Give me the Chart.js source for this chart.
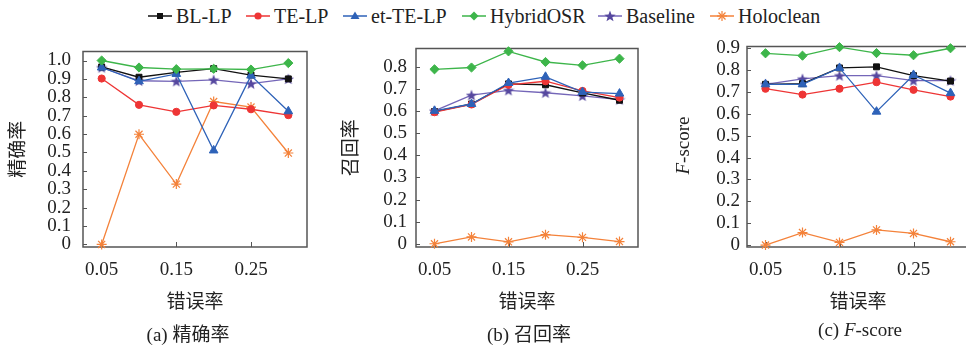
<!DOCTYPE html>
<html><head><meta charset="utf-8">
<script src="https://cdn.jsdelivr.net/npm/chart.js@4.4.0/dist/chart.umd.min.js"></script>
<style>
html,body{margin:0;padding:0;background:#fff;overflow:hidden;width:966px;height:352px;}
#wrap{position:relative;width:966px;height:352px;overflow:hidden;}
.panel{position:absolute;top:30px;height:290px;}
.leg{position:absolute;top:4px;height:24px;display:flex;align-items:center;font:20px "Liberation Serif","Noto Sans CJK SC",serif;color:#222;white-space:nowrap;}
.leg svg{margin-right:4px;display:block}
.cap{position:absolute;top:319px;line-height:24px;font:19px "Liberation Serif","Noto Sans CJK SC",serif;color:#222;transform:translateX(-50%);white-space:nowrap;}
</style></head>
<body>
<div id="wrap">
  <div id="legend"></div>
  <div class="panel" style="left:0px;width:314px"><canvas id="ca"></canvas></div>
  <div class="panel" style="left:332px;width:313px"><canvas id="cb"></canvas></div>
  <div class="panel" style="left:650px;width:326px"><canvas id="cc"></canvas></div>
  <div class="cap" style="left:188px">(a) 精确率</div>
  <div class="cap" style="left:529px">(b) 召回率</div>
  <div class="cap" style="left:860px">(c) <i>F</i>-score</div>
</div>
<script>
// ---------- data ----------
const errorRates = ['0.05','0.1','0.15','0.2','0.25','0.3'];
const seriesNames = ['BL-LP','TE-LP','et-TE-LP','HybridOSR','Baseline','Holoclean'];

const precisionBLLP      = [0.965,0.909,0.935,0.956,0.921,0.900];
const precisionTELP      = [0.902,0.759,0.721,0.756,0.735,0.703];
const precisionEtTELP    = [0.962,0.887,0.927,0.511,0.918,0.724];
const precisionHybridOSR = [1.000,0.962,0.953,0.955,0.951,0.986];
const precisionBaseline  = [0.962,0.890,0.887,0.895,0.874,0.900];
const precisionHoloclean = [0.000,0.599,0.328,0.777,0.747,0.497];

const recallBLLP      = [0.598,0.632,0.723,0.719,0.682,0.649];
const recallTELP      = [0.595,0.630,0.719,0.735,0.691,0.661];
const recallEtTELP    = [0.601,0.632,0.727,0.755,0.686,0.679];
const recallHybridOSR = [0.789,0.797,0.870,0.822,0.807,0.837];
const recallBaseline  = [0.601,0.672,0.694,0.683,0.669,0.652];
const recallHoloclean = [0.000,0.031,0.009,0.041,0.029,0.010];

const fscoreBLLP      = [0.735,0.738,0.810,0.815,0.775,0.750];
const fscoreTELP      = [0.715,0.688,0.715,0.745,0.710,0.679];
const fscoreEtTELP    = [0.735,0.735,0.810,0.610,0.778,0.695];
const fscoreHybridOSR = [0.877,0.866,0.905,0.878,0.868,0.900];
const fscoreBaseline  = [0.735,0.760,0.775,0.775,0.752,0.752];
const fscoreHoloclean = [0.000,0.057,0.012,0.069,0.053,0.015];

const precisionTicks = [0,0.1,0.2,0.3,0.4,0.5,0.6,0.7,0.8,0.9,1.0];
const recallTicks    = [0,0.1,0.2,0.3,0.4,0.5,0.6,0.7,0.8];
const fscoreTicks    = [0,0.1,0.2,0.3,0.4,0.5,0.6,0.7,0.8,0.9];
const labeledTickIdx = [0,2,4];

// ---------- styles ----------
const FONT = '"Liberation Serif","Noto Sans CJK SC",serif';
Chart.defaults.font.family = FONT;
Chart.defaults.color = '#222';

const C = {
  'BL-LP':    {line:'#111111', fill:'#111111', style:'rect', r:4.2},
  'TE-LP':    {line:'#ee3535', fill:'#ee3535', style:'circle', r:3.6},
  'et-TE-LP': {line:'#2e62b8', fill:'#2e62b8', style:'triangle', r:5},
  'HybridOSR':{line:'#3db54a', fill:'#3db54a', style:'rectRot', r:4.6},
  'Baseline': {line:'#7466b8', fill:'#56489f', style:'starImg', r:6},
  'Holoclean':{line:'#f4823a', fill:'#f4823a', style:'star', r:5}
};

function makeStar(size, color){
  const c = document.createElement('canvas');
  c.width = size; c.height = size;
  const g = c.getContext('2d');
  const cx=size/2, cy=size/2+0.5, R=size/2, r=R*0.42;
  g.beginPath();
  for(let i=0;i<10;i++){
    const a = -Math.PI/2 + i*Math.PI/5;
    const rr = i%2? r:R;
    g.lineTo(cx+rr*Math.cos(a), cy+rr*Math.sin(a));
  }
  g.closePath(); g.fillStyle=color; g.fill();
  return c;
}
const starImg = makeStar(12, '#56489f');

// ---------- legend (HTML) ----------
const legendX = [148,246,343,462,598,710];
function symbolSVG(name){
  const s=C[name]; const col=s.fill;
  let m='';
  if(s.style==='rect') m=`<rect x="9" y="9" width="6" height="6" fill="${col}"/>`;
  else if(s.style==='circle') m=`<circle cx="12" cy="12" r="3.6" fill="${col}"/>`;
  else if(s.style==='triangle') m=`<polygon points="12,7.5 16.5,15 7.5,15" fill="${col}"/>`;
  else if(s.style==='rectRot') m=`<polygon points="12,7.5 16.5,12 12,16.5 7.5,12" fill="${col}"/>`;
  else if(s.style==='starImg'){
    let p=[];for(let i=0;i<10;i++){const a=-Math.PI/2+i*Math.PI/5;const rr=i%2?2.5:6;p.push((12+rr*Math.cos(a)).toFixed(2)+','+(12.5+rr*Math.sin(a)).toFixed(2));}
    m=`<polygon points="${p.join(' ')}" fill="${col}"/>`;
  } else {
    m=`<g stroke="${col}" stroke-width="1.2"><line x1="7" y1="12" x2="17" y2="12"/><line x1="12" y1="7" x2="12" y2="17"/><line x1="8.5" y1="8.5" x2="15.5" y2="15.5"/><line x1="8.5" y1="15.5" x2="15.5" y2="8.5"/></g>`;
  }
  return `<svg width="24" height="24"><line x1="0" y1="12" x2="24" y2="12" stroke="${s.line}" stroke-width="1.5"/>${m}</svg>`;
}
const legendEl = document.getElementById('legend');
seriesNames.forEach((n,i)=>{
  const d=document.createElement('div'); d.className='leg'; d.style.left=legendX[i]+'px';
  d.innerHTML=symbolSVG(n)+'<span>'+n+'</span>';
  legendEl.appendChild(d);
});

// ---------- plugins ----------
const framePlugin = {
  id:'frame',
  beforeDatasetsDraw(chart){
    const {ctx, chartArea:a, scales:{x,y}} = chart;
    ctx.save();
    ctx.strokeStyle='#555'; ctx.lineWidth=1.5;
    ctx.strokeRect(a.left, a.top, a.right-a.left, a.bottom-a.top);
    ctx.lineWidth=1;
    ctx.beginPath();
    y.ticks.forEach(t=>{const py=Math.round(y.getPixelForValue(t.value))+0.5; ctx.moveTo(a.left,py); ctx.lineTo(a.left+4,py);});
    labeledTickIdx.forEach(i=>{const px=Math.round(x.getPixelForTick(i))+0.5; ctx.moveTo(px,a.bottom); ctx.lineTo(px,a.bottom-5);});
    ctx.stroke(); ctx.restore();
  }
};

function makeDatasets(vals){
  // draw order: first on top
  const order = ['HybridOSR','et-TE-LP','TE-LP','BL-LP','Baseline','Holoclean'];
  return order.map(n=>{
    const s=C[n];
    return {
      label:n, data:vals[n], borderColor:s.line, backgroundColor:s.fill,
      borderWidth:1.3, pointStyle: s.style==='starImg'? starImg : s.style,
      pointRadius:s.r, pointBorderColor: s.style==='star'? s.line : s.fill,
      pointBackgroundColor:s.fill, pointBorderWidth: s.style==='star'?1.2:1,
      clip:false, tension:0
    };
  });
}

function makeChart(id, vals, ticksArr, yMin, yMax, yAxisWidth, titleText, titlePad, tickPad, extraPlugins){
  return new Chart(document.getElementById(id), {
    type:'line',
    data:{labels:errorRates, datasets:makeDatasets(vals)},
    options:{
      responsive:true, maintainAspectRatio:false, animation:false,
      layout:{padding:{top:14,right:2,left:0,bottom:0}},
      plugins:{legend:{display:false}, tooltip:{enabled:false}},
      scales:{
        x:{
          type:'category', offset:true,
          grid:{display:false, drawTicks:false}, border:{display:false},
          ticks:{autoSkip:false, maxRotation:0, padding:12, font:{size:19},
            callback:(v,i)=> labeledTickIdx.includes(i) ? errorRates[i] : ''},
          title:{display:true, text:'错误率', font:{size:19, lineHeight:1.2}, padding:{top:0,bottom:6}},
          afterFit:(s)=>{ s.height = 73; }
        },
        y:{
          min:yMin, max:yMax,
          grid:{display:false, drawTicks:false}, border:{display:false},
          ticks:{autoSkip:false, padding:tickPad, font:{size:19, lineHeight:1}, callback:(v)=> v===0 ? '0' : v.toFixed(1)},
          afterBuildTicks:(s)=>{ s.ticks = ticksArr.map(v=>({value:v})); },
          title:{display: !!titleText, text:titleText||'', font:{size:19, lineHeight:1.2}, padding:{top:titlePad,bottom:0}},
          afterFit:(s)=>{ s.width = yAxisWidth; }
        }
      }
    },
    plugins:[framePlugin].concat(extraPlugins||[])
  });
}

const fTitlePlugin = {
  id:'ftitle',
  afterDraw(chart){
    const ctx=chart.ctx; ctx.save();
    ctx.translate(34, 115.5); ctx.rotate(-Math.PI/2);
    ctx.fillStyle='#222'; ctx.textBaseline='middle';
    const fi='italic 19px '+FONT, fn='19px '+FONT;
    ctx.font=fi; const w1=ctx.measureText('F').width;
    ctx.font=fn; const w2=ctx.measureText('-score').width;
    const x0=-(w1+w2)/2;
    ctx.font=fi; ctx.textAlign='left'; ctx.fillText('F', x0, 0);
    ctx.font=fn; ctx.fillText('-score', x0+w1, 0);
    ctx.restore();
  }
};

makeChart('ca', {
  'BL-LP':precisionBLLP,'TE-LP':precisionTELP,'et-TE-LP':precisionEtTELP,
  'HybridOSR':precisionHybridOSR,'Baseline':precisionBaseline,'Holoclean':precisionHoloclean
}, precisionTicks, -0.014, 1.049, 83, '精确率', 8, 12);

makeChart('cb', {
  'BL-LP':recallBLLP,'TE-LP':recallTELP,'et-TE-LP':recallEtTELP,
  'HybridOSR':recallHybridOSR,'Baseline':recallBaseline,'Holoclean':recallHoloclean
}, recallTicks, -0.0146, 0.883, 84, '召回率', 8.6, 9);

makeChart('cc', {
  'BL-LP':fscoreBLLP,'TE-LP':fscoreTELP,'et-TE-LP':fscoreEtTELP,
  'HybridOSR':fscoreHybridOSR,'Baseline':fscoreBaseline,'Holoclean':fscoreHoloclean
}, fscoreTicks, -0.009, 0.908, 97, '', 0, 7, [fTitlePlugin]);
</script>
</body></html>
